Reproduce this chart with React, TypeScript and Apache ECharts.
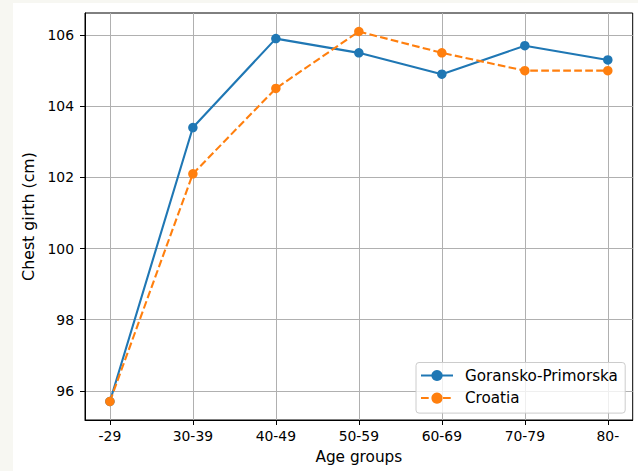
import React, { useEffect, useRef } from "react";
import * as echarts from "echarts";

const categories = ["-29", "30-39", "40-49", "50-59", "60-69", "70-79", "80-"];
const goranskoPrimorska = [95.7, 103.4, 105.9, 105.5, 104.9, 105.7, 105.3];
const croatia = [95.7, 102.1, 104.5, 106.1, 105.5, 105.0, 105.0];
const yTicks = [96, 98, 100, 102, 104, 106];
const seriesNames = ["Goransko-Primorska", "Croatia"];

const FONT = "DejaVu Sans";
const FS = 13.9;

export default function App() {
  const ref = useRef<HTMLDivElement>(null);
  useEffect(() => {
    if (!ref.current) return;
    const chart = echarts.init(ref.current, undefined, { renderer: "svg" });
    const xIdx = categories.map((_, i) => i);
    const allVals = [...goranskoPrimorska, ...croatia];
    const dMin = Math.min(...allVals);
    const dMax = Math.max(...allVals);
    const pad = (dMax - dMin) * 0.05;
    const xPad = (categories.length - 1) * 0.05;
    const axisCommon = {
      axisLine: { show: true, onZero: false, lineStyle: { color: "#000", width: 1 } },
      axisTick: { show: true, inside: false, length: 5, lineStyle: { color: "#000", width: 1 } },
      splitLine: { show: true, lineStyle: { color: "#b0b0b0", width: 1 } },
    };
    chart.setOption({
      animation: false,
      textStyle: { fontFamily: FONT },
      grid: {
        left: 85,
        right: 5.3,
        top: 13,
        bottom: 51,
        show: true,
        borderColor: "#000",
        borderWidth: 1,
        backgroundColor: "transparent",
      },
      xAxis: {
        type: "value",
        min: -xPad,
        max: categories.length - 1 + xPad,
        name: "Age groups",
        nameLocation: "middle",
        nameGap: 29,
        nameTextStyle: { fontFamily: FONT, fontSize: 15.3, color: "#000" },
        ...axisCommon,
        axisTick: { ...axisCommon.axisTick, customValues: xIdx },
        axisLabel: {
          customValues: xIdx,
          formatter: (v: number) => categories[Math.round(v)] ?? "",
          fontFamily: FONT,
          fontSize: FS,
          color: "#000",
          margin: 9,
        },
      },
      yAxis: {
        type: "value",
        min: dMin - pad,
        max: dMax + pad,
        name: "Chest girth (cm)",
        nameLocation: "middle",
        nameGap: 47,
        nameTextStyle: { fontFamily: FONT, fontSize: 15.8, color: "#000" },
        ...axisCommon,
        axisTick: { ...axisCommon.axisTick, customValues: yTicks },
        axisLabel: {
          customValues: yTicks,
          fontFamily: FONT,
          fontSize: FS,
          color: "#000",
          margin: 11,
        },
      },
      legend: {
        show: true,
        orient: "vertical",
        left: 416,
        top: 362.5,
        padding: [5.5, 7.3, 7.5, 4],
        itemWidth: 32,
        itemHeight: 14,
        itemGap: 7.6,
        backgroundColor: "rgba(255,255,255,0.8)",
        borderColor: "#cccccc",
        borderWidth: 1,
        borderRadius: 3,
        textStyle: { fontFamily: FONT, fontSize: 15.2, color: "#000", lineHeight: 15, padding: [0, 0, 0, 7] },
        data: seriesNames,
      },
      series: [
        {
          name: seriesNames[0],
          type: "line",
          data: goranskoPrimorska.map((v, i) => [xIdx[i], v]),
          symbol: "circle",
          symbolSize: 9.5,
          itemStyle: { color: "#1f77b4" },
          lineStyle: { color: "#1f77b4", width: 2.1 },
        },
        {
          name: seriesNames[1],
          type: "line",
          data: croatia.map((v, i) => [xIdx[i], v]),
          symbol: "circle",
          symbolSize: 9.5,
          itemStyle: { color: "#ff7f0e" },
          lineStyle: { color: "#ff7f0e", width: 2.1, type: [7.7, 3.3] },
        },
      ],
    });
    return () => chart.dispose();
  }, []);
  return (
    <div style={{ position: "fixed", left: 0, top: 0, width: 638, height: 471, background: "#f7f7f2" }}>
      <div style={{ position: "absolute", left: 13, top: 3, width: 625, height: 468, background: "#ffffff" }} />
      <div ref={ref} style={{ position: "absolute", left: 0, top: 0, width: 638, height: 471 }} />
    </div>
  );
}
